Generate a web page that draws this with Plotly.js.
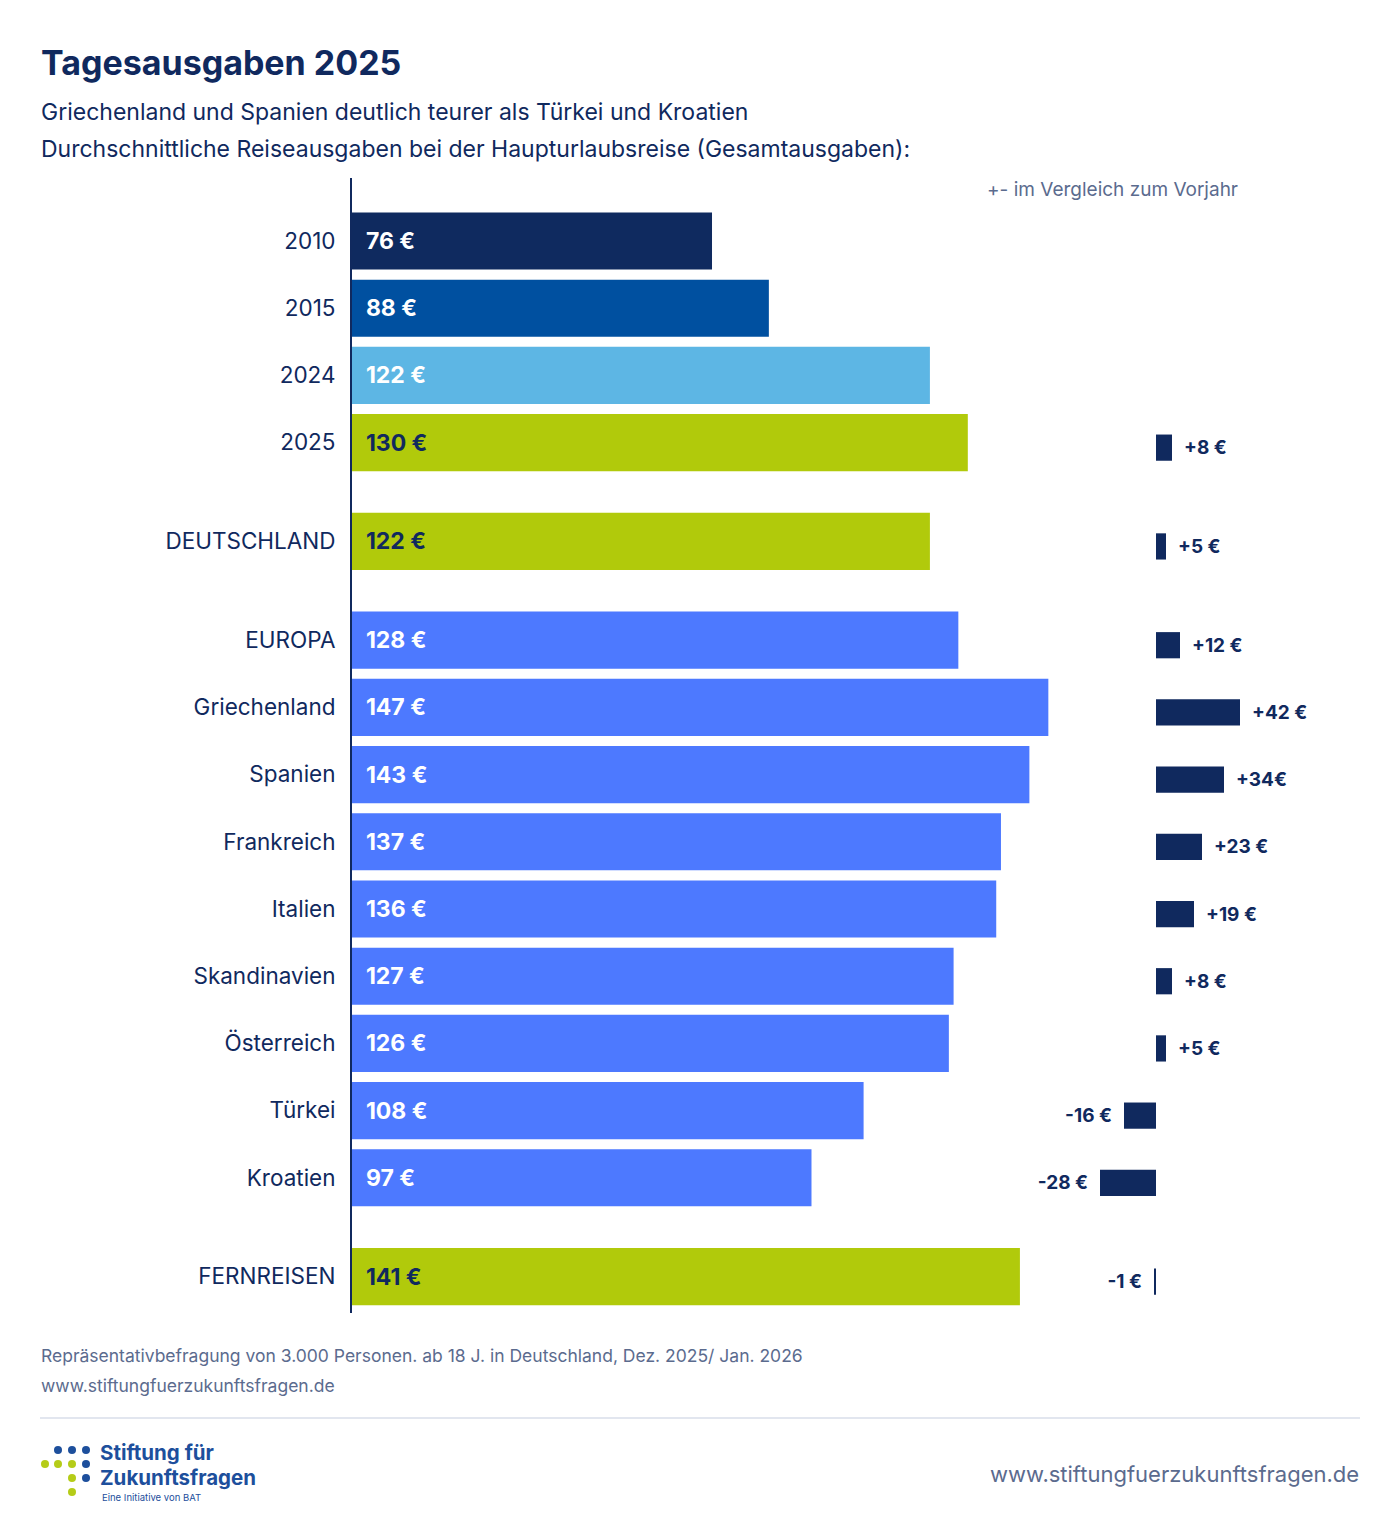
<!DOCTYPE html>
<html>
<head>
<meta charset="utf-8">
<script src="https://cdn.plot.ly/plotly-3.0.1.min.js"></script>
<style>
  body { margin: 0; background: #fff; }
  #chart { width: 1400px; height: 1528px; }
</style>
</head>
<body>
<div id="chart"></div>
<script>
// data
var categories = ['2010', '2015', '2024', '2025', 'DEUTSCHLAND', 'EUROPA', 'Griechenland', 'Spanien',
                  'Frankreich', 'Italien', 'Skandinavien', 'Österreich', 'Türkei', 'Kroatien', 'FERNREISEN'];
var groups = [0, 0, 0, 0, 1, 2, 2, 2, 2, 2, 2, 2, 2, 2, 3];
var spending = [76, 88, 122, 130, 122, 128, 147, 143, 137, 136, 127, 126, 108, 97, 141];
var change = [null, null, null, 8, 5, 12, 42, 34, 23, 19, 8, 5, -16, -28, -1];
var changeLabels = ['', '', '', '+8 €', '+5 €', '+12 €', '+42 €', '+34€', '+23 €', '+19 €', '+8 €', '+5 €',
                    '-16 €', '-28 €', '-1 €'];

var FONT = 'Inter, "Noto Sans", sans-serif';
var NAVY = '#10295e';
var GREY = '#5b6b8e';

// page geometry (pixels) -> paper coordinates for text and decorations
var W = 1400, H = 1528, L = 352, T = 178, B = 1313;
function px(x) { return (x - L) / (W - L); }
function py(y) { return (B - y) / (B - T); }

// row positions: one unit per row, a half-row gap between groups
var pos = categories.map(function (c, i) { return i + groups[i] * 0.47; });

var yearColors = { '2010': '#0f2a5f', '2015': '#0050a0', '2024': '#5db6e4', '2025': '#b1ca0b' };
var green = ['2025', 'DEUTSCHLAND', 'FERNREISEN'];
var barColors = categories.map(function (c) {
  if (yearColors[c]) return yearColors[c];
  if (green.indexOf(c) >= 0) return '#b1ca0b';
  return '#4d79ff';
});
var textColors = categories.map(function (c) {
  return green.indexOf(c) >= 0 ? NAVY : '#ffffff';
});

var mainTrace = {
  type: 'bar',
  orientation: 'h',
  x: spending,
  y: pos,
  width: 0.85,
  marker: { color: barColors, line: { width: 0 } },
  text: spending.map(function (v) { return v + ' €'; }),
  texttemplate: '\u00a0\u00a0%{text}',
  textposition: 'inside',
  insidetextanchor: 'start',
  constraintext: 'none',
  insidetextfont: { family: FONT, size: 23, weight: 700, color: textColors },
  hoverinfo: 'skip',
  cliponaxis: false
};

var changeTrace = {
  type: 'bar',
  orientation: 'h',
  x: change,
  y: pos,
  xaxis: 'x2',
  yaxis: 'y',
  width: 0.39,
  offset: -0.12,
  marker: { color: NAVY, line: { width: 0 } },
  text: changeLabels,
  texttemplate: change.map(function (v) {
    return v < 0 ? '%{text}\u00a0\u00a0' : '\u00a0\u00a0%{text}';
  }),
  textposition: 'outside',
  constraintext: 'none',
  outsidetextfont: { family: FONT, size: 19, weight: 700, color: NAVY },
  hoverinfo: 'skip',
  cliponaxis: false
};

function note(text, x, y, size, color, opts) {
  var a = {
    text: text, xref: 'paper', yref: 'paper', x: px(x), y: py(y),
    xanchor: 'left', yanchor: 'middle', showarrow: false,
    font: { family: FONT, size: size, color: color }
  };
  for (var k in (opts || {})) a[k] = opts[k];
  return a;
}

var annotations = [
  note('<b>Tagesausgaben 2025</b>', 39, 62, 34, NAVY),
  note('Griechenland und Spanien deutlich teurer als Türkei und Kroatien', 39, 112, 23, NAVY),
  note('Durchschnittliche Reiseausgaben bei der Haupturlaubsreise (Gesamtausgaben):', 39, 149, 23, NAVY),
  note('+- im Vergleich zum Vorjahr', 985, 189, 19, GREY),
  note('Repräsentativbefragung von 3.000 Personen. ab 18 J. in Deutschland, Dez. 2025/ Jan. 2026', 39, 1355, 17.5, GREY),
  note('www.stiftungfuerzukunftsfragen.de', 39, 1385, 17.5, GREY),
  note('www.stiftungfuerzukunftsfragen.de', 1361, 1474, 22, GREY, { xanchor: 'right' }),
  note('<b>Stiftung für</b>', 99, 1452, 20.5, '#1d4f9c', { borderpad: 0 }),
  note('<b>Zukunftsfragen</b>', 99, 1477, 20.5, '#1d4f9c', { borderpad: 0 }),
  note('Eine Initiative von BAT', 101, 1497, 9.5, '#1d4f9c', { borderpad: 0 })
];

// logo dots and separator
var dotSpec = [
  [58, 1450, 'b'], [72, 1450, 'b'], [86, 1450, 'b'],
  [45, 1464, 'g'], [58, 1464, 'g'], [72, 1464, 'g'], [86, 1464, 'b'],
  [72, 1478, 'g'], [86, 1478, 'b'],
  [72, 1492, 'g']
];
var shapes = [{
  type: 'line', xref: 'paper', yref: 'paper',
  x0: px(40), x1: px(1360), y0: py(1418), y1: py(1418),
  line: { color: '#e2e6ef', width: 2 }
}];
dotSpec.forEach(function (d) {
  var c = d[2] === 'b' ? '#1d4f9c' : '#b5cc18';
  shapes.push({
    type: 'circle', xref: 'paper', yref: 'paper',
    x0: px(d[0] - 4), x1: px(d[0] + 4), y0: py(d[1] + 4), y1: py(d[1] - 4),
    fillcolor: c, line: { width: 0 }
  });
});

var layout = {
  width: W,
  height: H,
  margin: { l: L, r: 0, t: T, b: H - B, pad: 0 },
  paper_bgcolor: '#ffffff',
  plot_bgcolor: 'rgba(0,0,0,0)',
  barmode: 'overlay',
  showlegend: false,
  font: { family: FONT, color: NAVY },
  xaxis: { domain: [0, 1], range: [0, (W - L) / 4.737], visible: false, fixedrange: true },
  xaxis2: { overlaying: 'x', anchor: 'y', range: [-(1156 - L) / 2, (W - 1156) / 2], visible: false, fixedrange: true },
  yaxis: {
    range: [15.952, -0.9375],
    tickmode: 'array',
    tickvals: pos,
    ticktext: categories,
    ticks: '',
    ticklabelstandoff: 10,
    tickfont: { family: FONT, size: 22.5, color: NAVY },
    showline: true,
    linecolor: NAVY,
    linewidth: 2,
    showgrid: false,
    zeroline: false,
    fixedrange: true
  },
  annotations: annotations,
  shapes: shapes
};

Plotly.newPlot('chart', [mainTrace, changeTrace], layout, { displayModeBar: false, staticPlot: true });
</script>
</body>
</html>
